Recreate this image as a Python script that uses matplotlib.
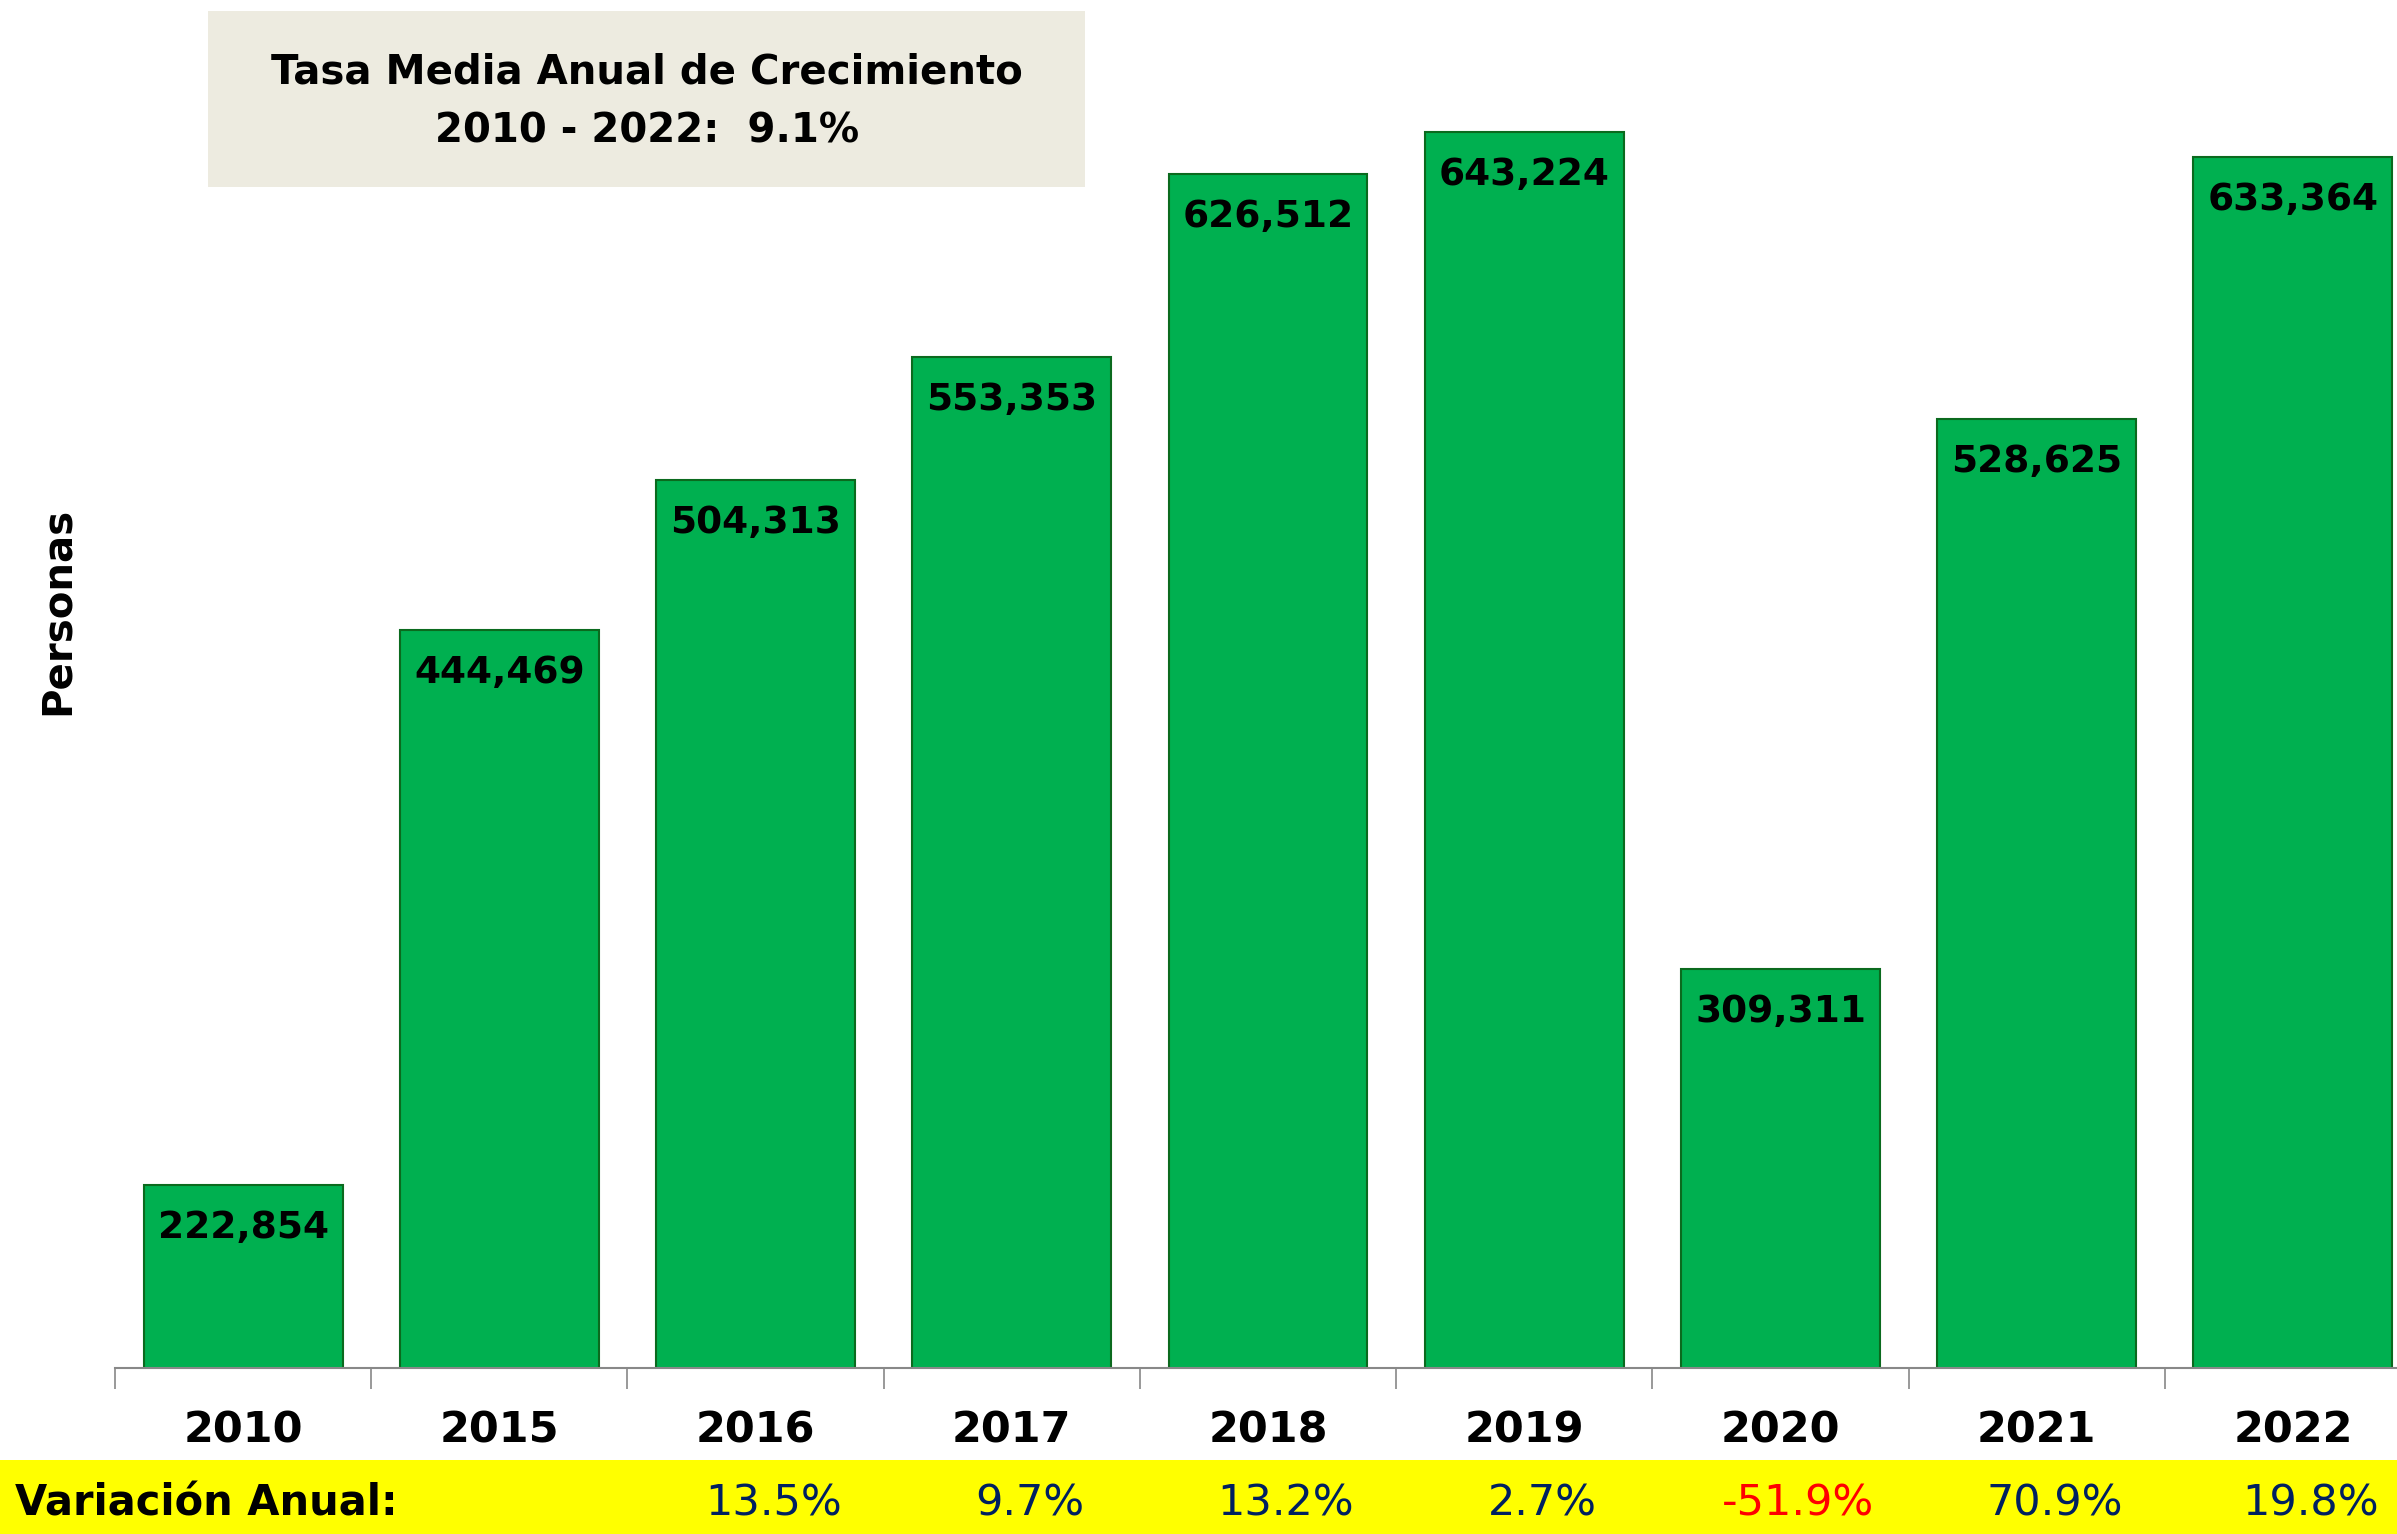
import matplotlib.pyplot as plt
import numpy as np

# Datos: personas por año y variación anual
years = ["2010", "2015", "2016", "2017", "2018", "2019", "2020", "2021", "2022"]
personas = [222854, 444469, 504313, 553353, 626512, 643224, 309311, 528625, 633364]
variacion = ["", "", "13.5%", "9.7%", "13.2%", "2.7%", "-51.9%", "70.9%", "19.8%"]
titulo = "Tasa Media Anual de Crecimiento\n2010 - 2022:  9.1%"

verde = "#00B050"
borde = "#0B6A1E"
azul = "#002060"

W, H = 2397, 1534
fig = plt.figure(figsize=(W / 100, H / 100), dpi=100)

# ejes: base en y=1368 px, parte de arriba en y=115 px
ax = fig.add_axes([115 / W, 1 - 1368 / H, (2421 - 115) / W, (1368 - 115) / H])
x = np.arange(len(years))
bars = ax.bar(x, personas, width=0.776, color=verde, edgecolor=borde, linewidth=1.5, zorder=2)

ax.set_xlim(-0.5, len(years) - 0.5)
ax.set_ylim(150000, 650000)

for s in ["top", "right", "left"]:
    ax.spines[s].set_visible(False)
ax.spines["bottom"].set_color("#888888")
ax.spines["bottom"].set_linewidth(1.5)
ax.set_yticks([])

# marcas del eje entre categorias
ax.set_xticks(np.arange(-0.5, len(years) - 0.5, 1.0))
ax.set_xticklabels([])
ax.tick_params(axis="x", length=15, width=1.2, color="#888888", direction="out")

for xi, yr in zip(x, years):
    ax.annotate(yr, xy=(xi, 150000), xytext=(0, -45), textcoords="offset points",
                ha="center", va="center", fontsize=31, fontweight="bold", color="black")

for b, v in zip(bars, personas):
    ax.annotate(f"{v:,}", xy=(b.get_x() + b.get_width() / 2, v), xytext=(0, -31),
                textcoords="offset points", ha="center", va="center",
                fontsize=27, fontweight="bold", color="black", zorder=3)

# franja amarilla con la variacion anual
fig.patches.append(plt.Rectangle((0, 0), 1, 1 - 1460 / H, transform=fig.transFigure,
                                 facecolor="#FFFF00", edgecolor="none", zorder=0))
fig.text(15 / W, 1 - 1503 / H, "Variación Anual:", ha="left", va="center",
         fontsize=30, fontweight="bold", color="black")
for xi, t in zip(x, variacion):
    if not t:
        continue
    col = "#FF0000" if t.startswith("-") else azul
    xf = ax.transData.transform((xi + 0.07, 0))[0] / W
    fig.text(xf, 1 - 1503 / H, t, ha="center", va="center", fontsize=31, color=col)

# recuadro con la tasa media
fig.patches.append(plt.Rectangle((208 / W, 1 - 187 / H), (1085 - 208) / W, (187 - 11) / H,
                                 transform=fig.transFigure, facecolor="#EDEBE0",
                                 edgecolor="none", zorder=0))
fig.text(647 / W, 1 - 102 / H, titulo, ha="center", va="center", fontsize=29,
         fontweight="bold", color="black", linespacing=1.6)

fig.text(58 / W, 1 - 611 / H, "Personas", rotation=90, ha="center", va="center",
         fontsize=29, fontweight="bold", color="black")

fig.savefig("out.png", dpi=100)
